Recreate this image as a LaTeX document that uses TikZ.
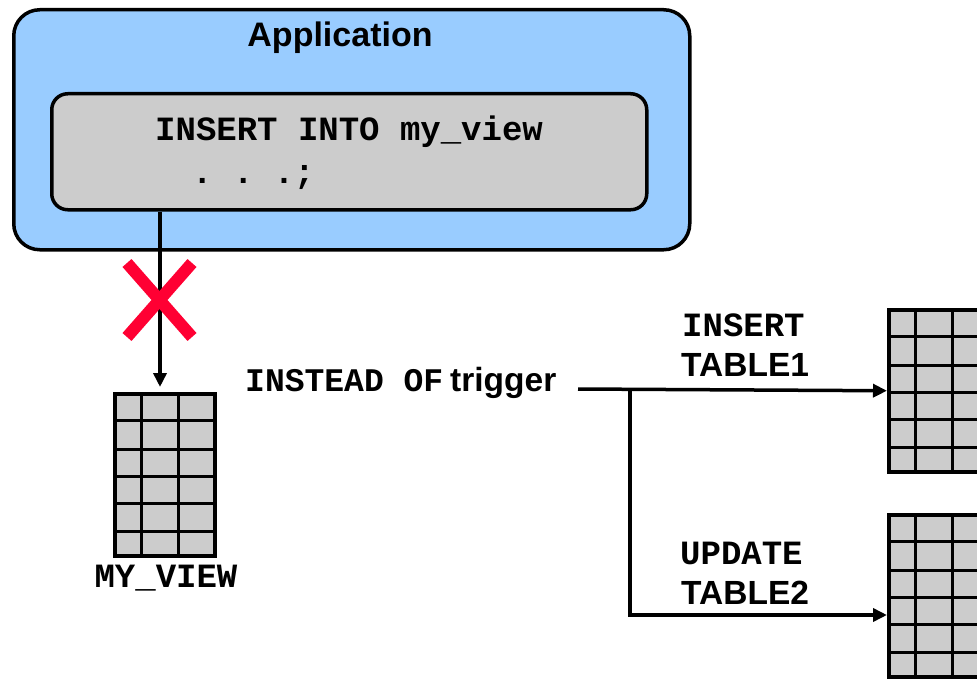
\documentclass[tikz,border=0pt]{standalone}
\usepackage{fontspec}
\setmainfont{Liberation Sans}
\newfontfamily\codefont{Liberation Mono}[WordSpace={1,0,0}]
\usetikzlibrary{arrows.meta,calc}
\definecolor{appblue}{HTML}{99CCFF}
\definecolor{cellgray}{HTML}{CCCCCC}
\definecolor{xred}{HTML}{FF0033}
\tikzset{
  appbox/.style={draw,line width=3.5pt,fill=appblue,rounded corners=26pt,inner sep=0pt,anchor=north west},
  codebox/.style={draw,line width=3.5pt,fill=cellgray,rounded corners=16pt,inner sep=0pt,anchor=north west},
  codetext/.style={font=\codefont\bfseries\fontsize{34}{38}\selectfont,inner sep=0pt,anchor=west},
  sanstext/.style={font=\bfseries\fontsize{33.5}{38}\selectfont,inner sep=0pt,anchor=west},
  tablebox/.style={draw,line width=3.5pt,fill=cellgray,minimum width=100pt,minimum height=162pt,inner sep=0pt,anchor=north west},
  gridline/.style={line width=3pt},
  flow/.style={line width=3.5pt,-{Triangle[length=14pt,width=13pt]}},
  cross/.style={line width=12pt,xred},
}
\newcommand\gridtable[3]{%
  \node[tablebox] (#1) at (#2,#3) {};
  \foreach \c in {28,65} \draw[gridline] ($(#1.north west)+(\c,0)$) -- ($(#1.south west)+(\c,0)$);
  \foreach \r in {28,57,84,111,139} \draw[gridline] ($(#1.north west)+(0,\r)$) -- ($(#1.north east)+(0,\r)$);
}
\frenchspacing
\begin{document}
\frenchspacing
\begin{tikzpicture}[x=1pt,y=-1pt]
\clip (0,0) rectangle (977,682);
\fill[white] (0,0) rectangle (977,682);

% application box
\node[appbox,minimum width=676pt,minimum height=240pt] (app) at (12,8) {};
\node[font=\bfseries\fontsize{34}{40}\selectfont,inner sep=0pt] (apptitle) at (340,38) {Application};
\node[codebox,minimum width=595pt,minimum height=116pt] (code) at (50,92) {};
\node[codetext] (line1) at (155,132) {INSERT INTO my\_view};
\node[codetext] (line2) at (192,178) {. . .;};

% tables
\gridtable{myview}{113}{392}
\gridtable{tableone}{887}{308}
\gridtable{tabletwo}{887}{513}

% blocked insert
\draw[flow,shorten >=5pt] ($(code.south west)+(110,0)$) -- ($(myview.north west)+(47,0)$);
\draw[cross] (127,263) -- (192,337);
\draw[cross] (127,337) -- (192,263);
\node[codetext,anchor=center] (mvlabel) at (166,578) {MY\_VIEW};

% trigger
\node[sanstext] (trig) at (245,383) {{\codefont\bfseries\fontsize{33}{38}\selectfont INSTEAD OF}\hspace{7pt}trigger};
\coordinate (start) at (578,389);
\coordinate (split) at (630,389);
\coordinate (twoentry) at ($(tabletwo.north west)+(0,102)$);
\draw[flow] (start) -- (tableone.west);
\draw[flow] (split) |- (twoentry);

% labels
\node[codetext] (inslabel) at (682,325) {INSERT};
\node[sanstext] (t1label) at (681,365) {TABLE1};
\node[codetext] (updlabel) at (680,553) {UPDATE};
\node[sanstext] (t2label) at (681,593) {TABLE2};
\end{tikzpicture}
\end{document}
